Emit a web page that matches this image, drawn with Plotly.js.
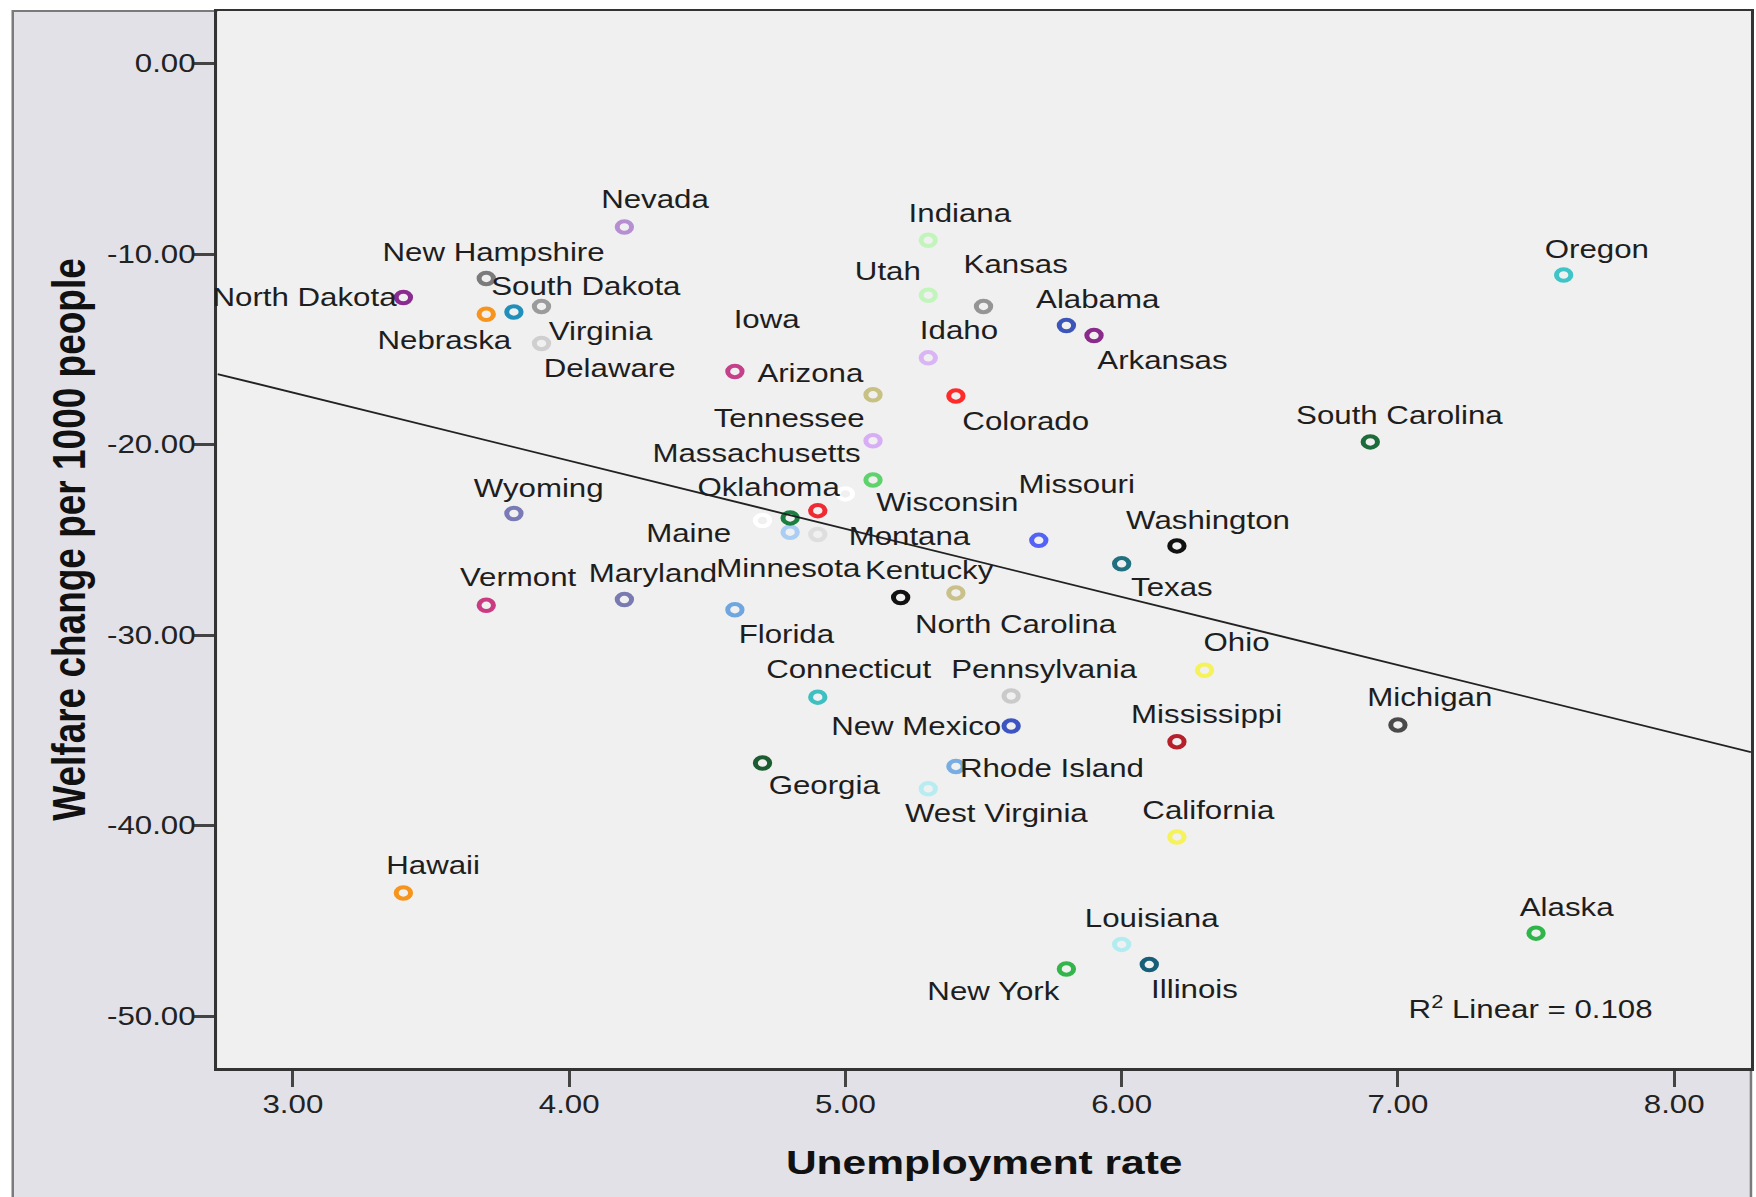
<!DOCTYPE html>
<html>
<head>
<meta charset="utf-8">
<script src="https://cdn.plot.ly/plotly-3.0.1.min.js"></script>
<style>
  html, body { margin:0; padding:0; background:#ffffff; overflow:hidden; width:1756px; height:1197px; }
  #chart { width:1405px; height:1197px; transform:scaleX(1.2498); transform-origin:0 0; }
</style>
</head>
<body>
<div id="chart"></div>
<script>
// ---- data ----
const states = ["Iowa","Alabama","Alaska","Arizona","Arkansas","California","Colorado","Connecticut","Delaware",
  "Florida","Georgia","Hawaii","Idaho","Illinois","Indiana","Kansas","Kentucky","Louisiana","Maine","Maryland",
  "Massachusetts","Michigan","Minnesota","Mississippi","Missouri","Montana","Nebraska","Nevada","New Hampshire",
  "New Jersey","New Mexico","New York","North Carolina","North Dakota","Ohio","Oklahoma","Oregon","Pennsylvania",
  "Rhode Island","South Carolina","South Dakota","Tennessee","Texas","Utah","Vermont","Virginia","Washington",
  "West Virginia","Wisconsin","Wyoming","District of Columbia"];
const unemployment = [4.6,5.8,7.5,4.6,5.9,6.2,5.4,4.9,3.9,
  4.6,4.7,3.4,5.3,6.1,5.3,5.5,5.2,6.0,4.7,4.2,
  5.1,7.0,4.8,6.2,5.7,4.9,3.7,4.2,3.7,
  4.9,5.6,5.8,5.4,3.4,6.3,5.0,7.6,5.6,
  5.4,6.9,3.8,5.1,6.0,5.3,3.7,3.9,6.2,
  5.3,5.1,3.8,4.8];
const welfareChange = [-16.16,-13.75,-45.65,-16.16,-14.28,-40.6,-17.45,-33.26,-14.69,
  -28.67,-36.72,-43.54,-15.45,-47.3,-9.28,-12.75,-28.03,-46.24,-23.99,-28.14,
  -19.8,-34.72,-24.6,-35.6,-25.03,-24.72,-13.16,-8.58,-11.28,
  -23.47,-34.78,-47.53,-27.79,-12.28,-31.85,-22.59,-11.1,-33.2,
  -36.9,-19.86,-13.04,-17.39,-26.26,-12.16,-28.44,-12.75,-25.32,
  -38.07,-21.86,-23.62,-23.85];
const showLabel = [true,true,true,true,true,true,true,true,true,
  true,true,true,true,true,true,true,true,true,true,true,
  true,true,true,true,true,true,true,true,true,
  false,true,true,true,true,true,true,true,true,
  true,true,true,true,true,true,true,true,true,
  true,true,true,false];
const fitIntercept = -6.55;   // fitted line
const fitSlope = -3.575;
const rSquared = "0.108";
const xTickValues = [3,4,5,6,7,8];
const yTickValues = [0,-10,-20,-30,-40,-50];
const xTitle = "Unemployment rate";
const yTitle = "Welfare change per 1000 people";

// ---- styles ----
const markerColors = ["#ffffff","#3d55b8","#2fb54a","#c4418a","#8a2a8a","#f5f25a","#ff2b2b","#3ec0c2","#cfcfcf",
  "#6fa6e0","#1b5c30","#f7941d","#dab5f5","#175f78","#c2f5bb","#959595","#111111","#b3ecf0","#ffffff","#7a7ab2",
  "#d7aef5","#4a4a4a","#a9cdf3","#b5202b","#5562f7","#dedede","#f7941d","#b68fd3","#7b7b7b",
  "#f02a33","#3c55c0","#33b54c","#c9c08a","#8b2b8f","#f5f25a","#ffffff","#3fc4c8","#cacaca",
  "#79ade2","#1c6b3a","#2090bb","#c8c184","#21707f","#c2f5bb","#ca3c82","#9b9b9b","#111111",
  "#b7edf0","#5ed26c","#7a7ab6","#1a7f40"];
// label centre offset from its marker (reference px, before stretch)
const labelOffsets = [[28,-47],[28,-24],[27,-23],[68,1],[61,22],[28,-24],[62,22],[27,-25],[61,22],
  [46,22],[55,20],[26,-25],[28,-25],[40,22],[28,-24],[29,-38],[26,-25],[27,-24],[-66,11],[26,-24],
  [-104,11],[28,-25],[-2,32],[27,-25],[34,-50],[82,1],[-38,23],[27,-25],[7,-24],
  [0,0],[-85,0],[-65,20],[53,28],[-88,0],[29,-25],[-69,-6],[29,-23],[29,-24],
  [86,1],[26,-24],[64,-23],[-75,21],[45,21],[-36,-22],[28,-25],[53,22],[28,-23],
  [61,22],[66,20],[22,-23],[0,0]];

const SX = 1.2498;              // horizontal stretch of the page
const REF = 1756/1568;          // reference px -> screen px
const FONT = "Liberation Sans, Arial, sans-serif";
const xRange = [2.727, 8.278];
const yRange = [-52.73, 2.76];

const labelAnnotations = [];
states.forEach((s, i) => {
  if (!showLabel[i]) return;
  labelAnnotations.push({
    x: unemployment[i], y: welfareChange[i], xref: "x", yref: "y",
    text: s, showarrow: false, xanchor: "center", yanchor: "middle",
    xshift: labelOffsets[i][0] * REF / SX, yshift: -labelOffsets[i][1] * REF,
    font: { family: FONT, size: 25, color: "#1e1e1e" }
  });
});
labelAnnotations.push({
  x: 7.481, y: -49.58, xref: "x", yref: "y", showarrow: false,
  xanchor: "center", yanchor: "middle",
  text: "R<sup>2</sup> Linear = " + rSquared,
  font: { family: FONT, size: 25, color: "#1e1e1e" }
});

const pointsTrace = {
  type: "scatter", mode: "markers",
  x: unemployment, y: welfareChange, text: states,
  marker: { symbol: "circle-open", size: 11.5, color: markerColors, line: { width: 4 } },
  hoverinfo: "skip", cliponaxis: false
};
const fitTrace = {
  type: "scatter", mode: "lines",
  x: xRange, y: xRange.map(v => fitIntercept + fitSlope * v),
  line: { color: "#222222", width: 1.8 }, hoverinfo: "skip"
};

const layout = {
  width: 1405, height: 1197,
  margin: { l: 174.4, r: 4.2, t: 11, b: 129 },
  paper_bgcolor: "#ffffff", plot_bgcolor: "rgba(0,0,0,0)",
  showlegend: false, hovermode: false,
  xaxis: {
    range: xRange, tickvals: xTickValues, ticktext: xTickValues.map(v => v.toFixed(2)),
    ticks: "outside", ticklen: 16, tickwidth: 2.5, tickcolor: "#444", ticklabelstandoff: -3,
    showgrid: false, zeroline: false, showline: true, mirror: true, linecolor: "#333", linewidth: 2.5,
    tickfont: { family: FONT, size: 25, color: "#222" },
    title: { text: "<b>" + xTitle + "</b>", font: { family: FONT, size: 34, color: "#111" }, standoff: 33 }
  },
  yaxis: {
    range: yRange, tickvals: yTickValues, ticktext: yTickValues.map(v => v.toFixed(2)),
    ticks: "outside", ticklen: 16, tickwidth: 3, tickcolor: "#444", ticklabelstandoff: -6,
    showgrid: false, zeroline: false, showline: true, mirror: true, linecolor: "#333", linewidth: 2.5,
    tickfont: { family: FONT, size: 25, color: "#222" },
    title: { text: "<b>" + yTitle + "</b>", font: { family: FONT, size: 37, color: "#111" }, standoff: 6 }
  },
  shapes: [
    { type: "rect", xref: "paper", yref: "paper", x0: -0.1335, x1: 1, y0: -0.2, y1: 1,
      fillcolor: "#e1e1e7", line: { color: "#7a7a7a", width: 2 }, layer: "below" },
    { type: "rect", xref: "paper", yref: "paper", x0: 0, x1: 1, y0: 0, y1: 1,
      fillcolor: "#f0f0f0", line: { width: 0 }, layer: "below" }
  ],
  annotations: labelAnnotations
};

Plotly.newPlot("chart", [pointsTrace, fitTrace], layout, { displayModeBar: false, staticPlot: true });
</script>
</body>
</html>
